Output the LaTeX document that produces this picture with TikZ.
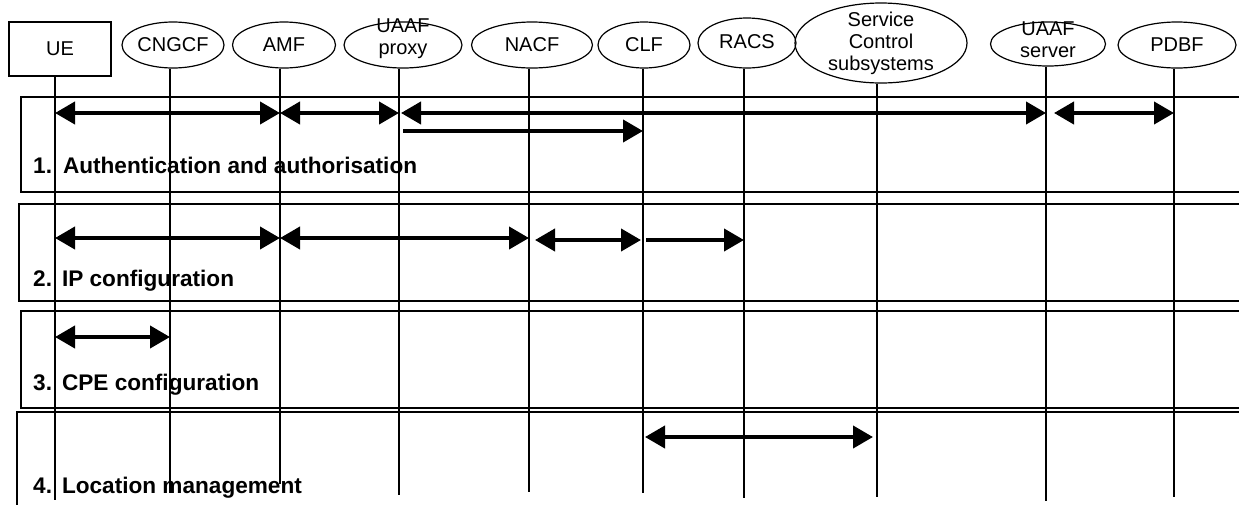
\documentclass[tikz,border=0pt]{standalone}
\usepackage{fontspec}
\setmainfont{Liberation Sans}
\usetikzlibrary{shapes.geometric,arrows.meta}
\newcommand{\mlbl}[2]{\raisebox{#1}[0pt][0pt]{\begin{tabular}{@{}c@{}}#2\end{tabular}}}
\begin{document}
\begin{tikzpicture}[x=1pt,y=-1pt,
  ent/.style={draw,line width=1.2pt,ellipse,inner sep=0pt,minimum height=46pt,font=\fontsize{20}{22}\selectfont},
  entbox/.style={draw,line width=1.2pt,rectangle,inner sep=0pt,minimum width=102pt,minimum height=54pt,font=\fontsize{20}{22}\selectfont},
  life/.style={line width=1.4pt},
  frame/.style={line width=1.5pt},
  msg/.style={line width=4pt,-{Triangle[length=20pt,width=22pt]}},
  bmsg/.style={line width=4pt,{Triangle[length=20pt,width=22pt]}-{Triangle[length=20pt,width=22pt]}},
  stage/.style={anchor=base west,inner sep=0pt,font=\bfseries\fontsize{22.6}{26}\selectfont}
]
\useasboundingbox (0,0) rectangle (1239,504);
\clip (0,0) rectangle (1239,504);
\fill[white] (0,0) rectangle (1239,504);

% frames
\draw[frame] (21,97) rectangle (1260,192);
\draw[frame] (19,204) rectangle (1260,301);
\draw[frame] (21,311) rectangle (1260,408);
\draw[frame] (17,412) rectangle (1260,530);

% entities
\node[entbox] (ue) at (60,49) {UE};
\node[ent,minimum width=102pt] (cngcf) at (173,45) {CNGCF};
\node[ent,minimum width=103pt] (amf) at (284,45) {AMF};
\node[ent,minimum width=118pt] (proxy) at (403,45) {\mlbl{1pt}{UAAF\\proxy}};
\node[ent,minimum width=121pt] (nacf) at (532,45) {NACF};
\node[ent,minimum width=92pt] (clf) at (644,45) {CLF};
\node[ent,minimum width=98pt,minimum height=50pt] (racs) at (747,43) {\raisebox{2pt}{RACS}};
\node[ent,minimum width=172pt,minimum height=80pt] (scs) at (881,43) {\mlbl{-6pt}{Service\\Control\\subsystems}};
\node[ent,minimum width=115pt,minimum height=44pt] (server) at (1048,44) {\mlbl{-3pt}{UAAF\\server}};
\node[ent,minimum width=118pt] (pdbf) at (1177,45) {PDBF};

% lifeline ends
\coordinate (ueE) at (55,500);
\coordinate (cngcfE) at (170,493);
\coordinate (amfE) at (280,484);
\coordinate (proxyE) at (399,495);
\coordinate (nacfE) at (529,492);
\coordinate (clfE) at (643,493);
\coordinate (racsE) at (744,498);
\coordinate (scsE) at (877,497);
\coordinate (serverE) at (1046,501);
\coordinate (pdbfE) at (1174,497);

\draw[life] (ue.south -| ueE) -- (ueE);
\draw[life] (cngcf.south -| cngcfE) -- (cngcfE);
\draw[life] (amf.south -| amfE) -- (amfE);
\draw[life] (proxy.south -| proxyE) -- (proxyE);
\draw[life] (nacf.south -| nacfE) -- (nacfE);
\draw[life] (clf.south -| clfE) -- (clfE);
\draw[life] (racs.south -| racsE) -- (racsE);
\draw[life] (scs.south -| scsE) -- (scsE);
\draw[life] (server.south -| serverE) -- (serverE);
\draw[life] (pdbf.south -| pdbfE) -- (pdbfE);

% message rows
\coordinate (r1a) at (0,113);
\coordinate (r1b) at (0,131);
\coordinate (r2a) at (0,238);
\coordinate (r2b) at (0,240);
\coordinate (r3) at (0,337);
\coordinate (r4) at (0,437);

% 1. Authentication and authorisation
\draw[bmsg] (ueE |- r1a) -- (amfE |- r1a);
\draw[bmsg] (amfE |- r1a) -- (proxyE |- r1a);
\draw[bmsg] ([xshift=2pt]proxyE |- r1a) -- (serverE |- r1a);
\draw[bmsg] ([xshift=8pt]serverE |- r1a) -- (pdbfE |- r1a);
\draw[msg] ([xshift=4pt]proxyE |- r1b) -- (clfE |- r1b);
\node[stage] (s1) at (33,173) {1.\hspace{11pt}Authentication and authorisation};

% 2. IP configuration
\draw[bmsg] (ueE |- r2a) -- (amfE |- r2a);
\draw[bmsg] (amfE |- r2a) -- (nacfE |- r2a);
\draw[bmsg] ([xshift=6pt]nacfE |- r2b) -- ([xshift=-2pt]clfE |- r2b);
\draw[msg] ([xshift=3pt]clfE |- r2b) -- (racsE |- r2b);
\node[stage] (s2) at (33,286) {2.\hspace{10pt}IP configuration};

% 3. CPE configuration
\draw[bmsg] (ueE |- r3) -- (cngcfE |- r3);
\node[stage] (s3) at (33,390) {3.\hspace{10pt}CPE configuration};

% 4. Location management
\draw[bmsg] ([xshift=2pt]clfE |- r4) -- ([xshift=-4pt]scsE |- r4);
\node[stage] (s4) at (33,493) {4.\hspace{10pt}Location management};
\end{tikzpicture}
\end{document}
